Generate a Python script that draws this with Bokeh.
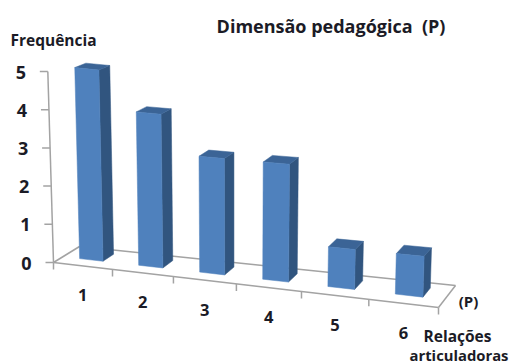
from bokeh.plotting import figure
from bokeh.models import ColumnDataSource
from bokeh.core.properties import value
from bokeh.embed import file_html
from bokeh.resources import INLINE

# Chart data
categories = ["1", "2", "3", "4", "5", "6"]
frequencies = [5, 4, 3, 3, 1, 1]
y_ticks = [0, 1, 2, 3, 4, 5]
title = "Dimensão pedagógica\u00a0\u00a0(P)"
y_title = "Frequência"
depth_label = "(P)"
x_title_lines = ["Relações", "articuladoras"]

# Oblique view: floor corners in screen units
FRONT_L, FRONT_R = (53.0, 262.0), (438.0, 307.0)
BACK_L, BACK_R = (79.0, 246.0), (455.0, 285.0)
BAR_D0, BAR_D1 = 0.36, 0.78      # depth span of a bar on the floor
BAR_U0, BAR_U1 = 0.29, 0.69      # width span of a bar inside its slot
FORESHORTEN = 0.905
N = len(categories)


def along(u):
    """Perspective spacing of category position u along the floor."""
    r = u / N
    return r * FORESHORTEN / (1 + (FORESHORTEN - 1) * r)


def project(u, d, h):
    """Map (category position, depth 0-1, value) to drawing coordinates."""
    t = along(u)
    fx = FRONT_L[0] + (FRONT_R[0] - FRONT_L[0]) * t
    fy = FRONT_L[1] + (FRONT_R[1] - FRONT_L[1]) * t
    bx = BACK_L[0] + (BACK_R[0] - BACK_L[0]) * t
    by = BACK_L[1] + (BACK_R[1] - BACK_L[1]) * t
    X = fx + (bx - fx) * d
    Y = fy + (by - fy) * d
    scale = (38.2 + 0.08 * u * u) * (1 - 0.03 * max(d - BAR_D0, 0))
    return X + (X - 235) / 160 * h, Y - scale * h


p = figure(width=511, height=363, x_range=(0, 511), y_range=(363, 0),
           output_backend="svg", toolbar_location=None, min_border=0)
p.axis.visible = False
p.grid.visible = False
p.outline_line_color = None
p.background_fill_color = "white"
p.border_fill_color = "white"

# Floor outline, vertical axis and tick marks
segments = [
    [project(0, 0, 0), project(N, 0, 0)],
    [project(N, 0, 0), project(N, 1, 0)],
    [project(N, 1, 0), project(0, 1, 0)],
    [project(0, 1, 0), project(0, 0, 0)],
    [project(0, 0, 0), project(0, 0, max(y_ticks))],
]
for tick in y_ticks:
    x0, y0 = project(0, 0, tick)
    segments.append([(x0, y0), (x0 - 8, y0)])
for i in range(N + 1):
    x0, y0 = project(i, 0, 0)
    segments.append([(x0, y0), (x0, y0 + 7)])
p.multi_line(xs=[[a[0], b[0]] for a, b in segments],
             ys=[[a[1], b[1]] for a, b in segments],
             line_color="#a3a3a3", line_width=1.5)

# Bars: right side, top and front face of each category
front, side, top = [], [], []
for i, v in enumerate(frequencies):
    u0, u1 = i + BAR_U0, i + BAR_U1
    fl0, fr0 = project(u0, BAR_D0, 0), project(u1, BAR_D0, 0)
    fl1, fr1 = project(u0, BAR_D0, v), project(u1, BAR_D0, v)
    br0, br1 = project(u1, BAR_D1, 0), project(u1, BAR_D1, v)
    bl1 = project(u0, BAR_D1, v)
    front.append([fl0, fr0, fr1, fl1])
    side.append([fr0, br0, br1, fr1])
    top.append([fl1, fr1, br1, bl1])

for faces, color in ((side, "#31557f"), (top, "#3b6496"), (front, "#4f81bd")):
    src = ColumnDataSource(dict(xs=[[pt[0] for pt in f] for f in faces],
                                ys=[[pt[1] for pt in f] for f in faces]))
    p.patches("xs", "ys", source=src, fill_color=color, line_color=color, line_width=0.5)

ink = "#1b1b26"
font = value("Open Sans")

# Value-axis labels
yl = [project(0, 0, t) for t in y_ticks]
p.text(x=[q[0] - 27 for q in yl], y=[q[1] + 0.5 for q in yl], text=[str(t) for t in y_ticks],
       text_font=font, text_font_style="bold", text_font_size="18px", text_color=ink,
       text_align="center", text_baseline="middle")

# Category labels
cl = [project(i + 0.5, 0, 0) for i in range(N)]
p.text(x=[q[0] for q in cl], y=[q[1] + 29.5 for q in cl], text=categories,
       text_font=font, text_font_style="bold", text_font_size="16.5px", text_color=ink,
       text_align="center", text_baseline="middle")

# Titles
p.text(x=[330.5], y=[25], text=[title], text_font=font, text_font_style="bold",
       text_font_size="18px", text_color=ink, text_align="center", text_baseline="middle")
for label, x, y, size in ((y_title, 53, 39.5, "15.5px"), (depth_label, 468, 300.5, "15px"),
                          (x_title_lines[0], 457, 335, "15.5px"), (x_title_lines[1], 458.5, 354, "14.8px")):
    p.text(x=[x], y=[y], text=[label], text_font=font, text_font_style="bold",
           text_font_size=size, text_color=ink, text_align="center", text_baseline="middle")

open("out.html", "w").write(file_html(p, INLINE))
